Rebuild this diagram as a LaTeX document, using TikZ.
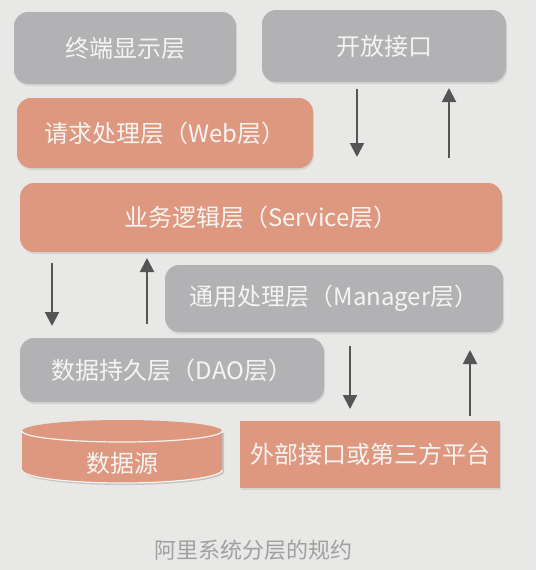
\documentclass[tikz,border=0pt]{standalone}
\usepackage{fontspec}
\setmainfont{Noto Sans CJK SC}
\usetikzlibrary{arrows.meta,shadows}
\definecolor{bg}{RGB}{232,233,230}
\definecolor{layergray}{RGB}{178,178,180}
\definecolor{layerorange}{RGB}{222,152,128}
\definecolor{arrowgray}{RGB}{85,85,85}
\definecolor{captiongray}{RGB}{160,160,160}
\definecolor{labelwhite}{RGB}{246,244,242}
\tikzset{
  layer/.style={rectangle, rounded corners=14pt, text=labelwhite,
    font=\fontsize{24}{24}\selectfont, inner sep=0pt,
    drop shadow={shadow xshift=1pt, shadow yshift=-2pt, opacity=0.18}},
  graylayer/.style={layer, fill=layergray},
  orangelayer/.style={layer, fill=layerorange},
  flow/.style={draw=arrowgray, line width=2pt,
    -{Triangle[width=14pt,length=14pt]}},
}
\begin{document}
\begin{tikzpicture}[x=1pt,y=-1pt]
  % canvas
  \fill[bg] (0,0) rectangle (536,570);
  \useasboundingbox (0,0) rectangle (536,570);

  % layers
  \node[graylayer, minimum width=222pt, minimum height=72pt] (term) at (125,48) {终端显示层};
  \node[graylayer, minimum width=244pt, minimum height=72pt] (open) at (384,46) {开放接口};
  \node[orangelayer, minimum width=296pt, minimum height=70pt] (web) at (165,133) {请求处理层（Web层）};
  \node[orangelayer, minimum width=482pt, minimum height=69pt] (svc) at (261,217.5) {业务逻辑层（Service层）};
  \node[graylayer, minimum width=338pt, minimum height=67pt] (mgr) at (334,298.5) {通用处理层（Manager层）};
  \node[graylayer, minimum width=304pt, minimum height=64pt] (dao) at (172,370) {数据持久层（DAO层）};
  \node[orangelayer, rounded corners=0pt, minimum width=260pt, minimum height=67pt] (ext) at (370,454.5) {外部接口或第三方平台};

  % data source cylinder
  \fill[black, opacity=0.15] (24,433) -- (24,472) arc[start angle=180, end angle=360, x radius=100, y radius=-13] -- (224,433) -- cycle;
  \fill[layerorange] (22,431) -- (22,470) arc[start angle=180, end angle=360, x radius=100, y radius=-13]
    -- (222,431) arc[start angle=0, end angle=180, x radius=100, y radius=-11] -- cycle;
  \draw[labelwhite, line width=1.2pt] (22,431) arc[start angle=180, end angle=360, x radius=100, y radius=-11];
  \draw[labelwhite, line width=1.2pt] (22,470) arc[start angle=180, end angle=360, x radius=100, y radius=-13];
  \node[text=labelwhite, font=\fontsize{24}{24}\selectfont] (ds) at (122,463) {数据源};

  % request and response flow
  \coordinate (a1s) at (357,89);  \coordinate (a1e) at (357,157);
  \coordinate (a2s) at (449,158); \coordinate (a2e) at (449,88);
  \coordinate (b1s) at (52,263);  \coordinate (b1e) at (52,326);
  \coordinate (b2s) at (147,324); \coordinate (b2e) at (147,258);
  \coordinate (c1s) at (350,346); \coordinate (c1e) at (350,409);
  \coordinate (c2s) at (470,416); \coordinate (c2e) at (470,350);
  \draw[flow] (a1s) -- (a1e);
  \draw[flow] (a2s) -- (a2e);
  \draw[flow] (b1s) -- (b1e);
  \draw[flow] (b2s) -- (b2e);
  \draw[flow] (c1s) -- (c1e);
  \draw[flow] (c2s) -- (c2e);

  % caption
  \node[text=captiongray, font=\fontsize{22}{22}\selectfont] (cap) at (253,550) {阿里系统分层的规约};
\end{tikzpicture}
\end{document}
